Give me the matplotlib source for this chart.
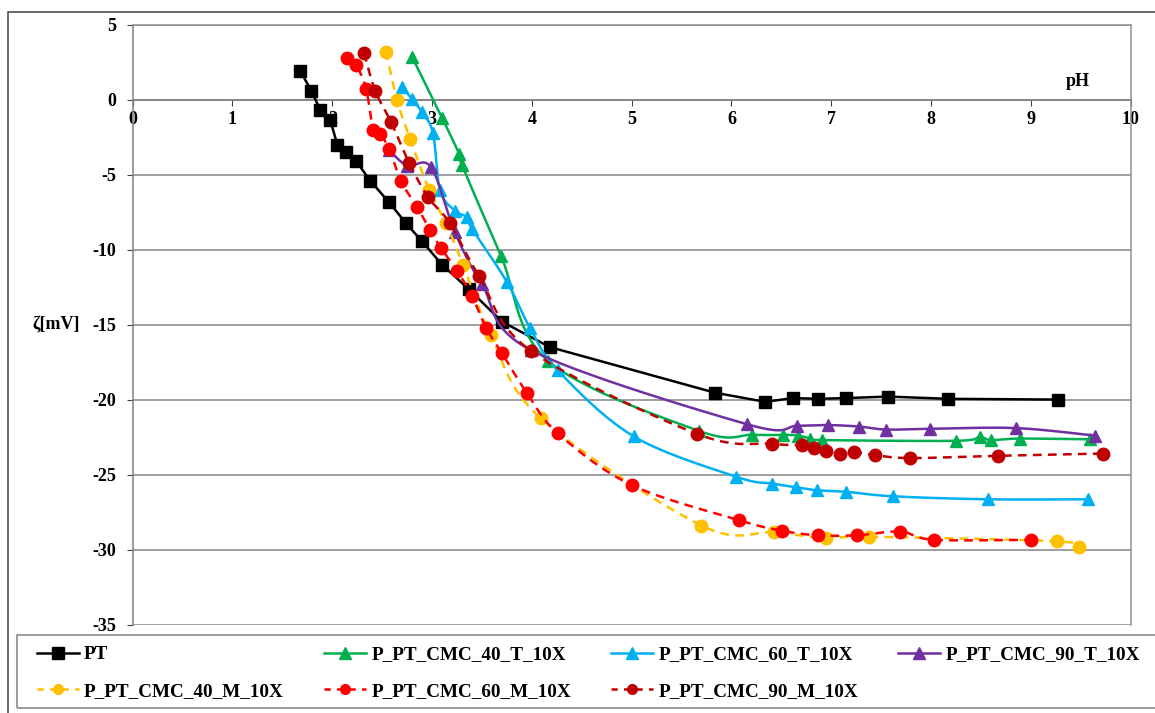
import matplotlib.pyplot as plt
from matplotlib.lines import Line2D
from matplotlib.patches import Rectangle
import numpy as np

# Données (pH, potentiel zeta en mV)
pt_ph = [1.68, 1.79, 1.88, 1.98, 2.05, 2.14, 2.24, 2.38, 2.57, 2.74, 2.90, 3.10, 3.37,
         3.70, 4.18, 5.84, 6.34, 6.62, 6.87, 7.15, 7.57, 8.17, 9.27]
pt_z = [1.9, 0.6, -0.7, -1.35, -3.0, -3.5, -4.1, -5.4, -6.85, -8.25, -9.45, -11.0, -12.65,
        -14.8, -16.5, -19.55, -20.15, -19.9, -19.95, -19.9, -19.8, -19.95, -20.0]

t40_ph = [2.80, 3.10, 3.27, 3.30, 3.69, 4.16, 5.68, 6.21, 6.52, 6.67, 6.79, 6.91, 8.25,
          8.49, 8.60, 8.89, 9.59]
t40_z = [2.85, -1.2, -3.6, -4.35, -10.4, -17.4, -22.1, -22.35, -22.35, -22.4, -22.6, -22.7,
         -22.75, -22.5, -22.7, -22.6, -22.65]

t60_ph = [2.70, 2.80, 2.90, 3.01, 3.08, 3.23, 3.35, 3.40, 3.75, 3.98, 4.26, 5.02, 6.05,
          6.41, 6.65, 6.86, 7.15, 7.62, 8.57, 9.57]
t60_z = [0.85, 0.05, -0.85, -2.25, -6.05, -7.4, -7.85, -8.6, -12.15, -15.2, -18.05, -22.45,
         -25.15, -25.6, -25.85, -26.05, -26.15, -26.45, -26.65, -26.65]

t90_ph = [2.57, 2.75, 2.99, 3.23, 3.50, 3.99, 6.16, 6.66, 6.97, 7.28, 7.55, 7.99, 8.85, 9.64]
t90_z = [-3.35, -4.4, -4.5, -8.85, -12.3, -16.7, -21.65, -21.75, -21.7, -21.8, -22.0, -21.95,
         -21.9, -22.4]

m40_ph = [2.54, 2.65, 2.78, 2.97, 3.14, 3.31, 3.59, 4.09, 5.70, 6.43, 6.95, 7.38, 9.26, 9.48]
m40_z = [3.2, -0.05, -2.6, -6.0, -8.25, -11.0, -15.7, -21.25, -28.4, -28.85, -29.25, -29.15,
         -29.45, -29.85]

m60_ph = [2.15, 2.24, 2.34, 2.41, 2.48, 2.57, 2.69, 2.85, 2.98, 3.09, 3.25, 3.40, 3.54, 3.70,
          3.95, 4.26, 5.00, 6.08, 6.51, 6.87, 7.26, 7.69, 8.03, 9.00]
m60_z = [2.8, 2.3, 0.7, -2.0, -2.3, -3.3, -5.45, -7.15, -8.7, -9.9, -11.4, -13.1, -15.2, -16.9,
         -19.55, -22.25, -25.7, -28.05, -28.75, -29.05, -29.05, -28.8, -29.35, -29.35]

m90_ph = [2.32, 2.43, 2.59, 2.77, 2.96, 3.18, 3.47, 3.99, 5.66, 6.41, 6.71, 6.83, 6.95, 7.09,
          7.23, 7.44, 7.79, 8.67, 9.72]
m90_z = [3.1, 0.6, -1.5, -4.2, -6.5, -8.25, -11.75, -16.75, -22.3, -22.95, -23.05, -23.25,
         -23.4, -23.65, -23.5, -23.7, -23.9, -23.75, -23.6]

x_ticks = list(range(0, 11))
y_ticks = list(range(-35, 6, 5))


def lisser(x, y, n=30):
    # courbe lissée façon Excel (Bezier / Catmull-Rom)
    p = np.column_stack([x, y]).astype(float)
    p = np.vstack([p[0], p, p[-1]])
    out = []
    t = np.linspace(0, 1, n)[:, None]
    for i in range(len(p) - 3):
        p0, p1, p2, p3 = p[i], p[i + 1], p[i + 2], p[i + 3]
        c1 = p1 + (p2 - p0) / 6
        c2 = p2 - (p3 - p1) / 6
        b = (1 - t) ** 3 * p1 + 3 * (1 - t) ** 2 * t * c1 + 3 * (1 - t) * t ** 2 * c2 + t ** 3 * p2
        out.append(b if i == 0 else b[1:])
    out = np.vstack(out)
    return out[:, 0], out[:, 1]


plt.rcParams['font.family'] = ['Liberation Serif', 'DejaVu Serif']
plt.rcParams['font.weight'] = 'bold'
plt.rcParams['axes.unicode_minus'] = False

fig = plt.figure(figsize=(11.55, 7.13), dpi=100)
W, H = 1155, 713
ax = fig.add_axes([132.7 / W, 1 - 624.5 / H, (1130.5 - 132.7) / W, (624.5 - 24.7) / H])

series = [
    (pt_ph, pt_z, 'PT', 'black', 's', '-', False),
    (t40_ph, t40_z, 'P_PT_CMC_40_T_10X', '#00B050', '^', '-', True),
    (t60_ph, t60_z, 'P_PT_CMC_60_T_10X', '#00B0F0', '^', '-', True),
    (t90_ph, t90_z, 'P_PT_CMC_90_T_10X', '#7030A0', '^', '-', True),
    (m40_ph, m40_z, 'P_PT_CMC_40_M_10X', '#FFC000', 'o', '--', True),
    (m60_ph, m60_z, 'P_PT_CMC_60_M_10X', '#FF0000', 'o', '--', True),
    (m90_ph, m90_z, 'P_PT_CMC_90_M_10X', '#C00000', 'o', '--', True),
]

handles = {}
for k, (x, y, nom, c, m, ls, lisse) in enumerate(series):
    if lisse:
        xs, ys = lisser(x, y)
    else:
        xs, ys = x, y
    ms = 8.5 if m == 's' else 9
    line, = ax.plot(xs, ys, color=c, lw=1.8, ls=ls, zorder=3 + k)
    if ls == '--':
        line.set_dashes((3.5, 2.5))
    ax.plot(x, y, ls='none', marker=m, ms=ms, color=c, mec=c, zorder=3 + k)
    h = Line2D([], [], color=c, lw=1.8, ls=ls, marker=m, ms=ms if m != 'o' else 7)
    if ls == '--':
        h.set_dashes((2.5, 2.5))
    handles[nom] = h

ax.set_xlim(0, 10)
ax.set_ylim(-35, 5)
ax.set_xticks(x_ticks)
ax.set_yticks(y_ticks)
ax.yaxis.grid(True, color='#858585', lw=1.1)
ax.set_axisbelow(True)

ax.spines['bottom'].set_position(('data', 0))
ax.spines['bottom'].set_color('#808080')
ax.spines['left'].set_color('#808080')
ax.spines['top'].set_color('#909090')
ax.spines['right'].set_color('#909090')
for s in ax.spines.values():
    s.set_linewidth(1.1)
ax.tick_params(axis='both', direction='out', length=4, color='#404040', labelsize=13)
ax.tick_params(axis='x', pad=4)
ax.tick_params(axis='y', pad=8)
for lab in ax.get_xticklabels() + ax.get_yticklabels():
    lab.set_fontweight('bold')

fig.text(1078 / W, 1 - 82 / H, 'pH', ha='center', va='center', fontsize=13,
         fontweight='bold')
fig.text(56 / W, 1 - 325 / H, 'ζ[mV]', ha='center', va='center', fontsize=13,
         fontweight='bold')

# cadre extérieur et cadre de la légende
fig.patches.append(Rectangle((8 / W, -0.1), 1.2, 1 - 12 / H + 0.1, transform=fig.transFigure,
                             fill=False, ec='#404040', lw=1.1))
fig.patches.append(Rectangle((17 / W, 5 / H), 1.2, 73 / H, transform=fig.transFigure,
                             fill=False, ec='#808080', lw=1.1))

ordre = ['PT', 'P_PT_CMC_40_M_10X', 'P_PT_CMC_40_T_10X', 'P_PT_CMC_60_M_10X',
         'P_PT_CMC_60_T_10X', 'P_PT_CMC_90_M_10X', 'P_PT_CMC_90_T_10X']
fig.legend([handles[n] for n in ordre], ordre, ncol=4, loc='upper left',
           bbox_to_anchor=(37 / W, 1 - 646 / H), frameon=False, handlelength=2.2,
           handletextpad=0.26, columnspacing=2.1, borderaxespad=0, borderpad=0,
           prop={'size': 13.8, 'weight': 'bold'}, labelspacing=1.0)

fig.savefig('out.png', dpi=100)
